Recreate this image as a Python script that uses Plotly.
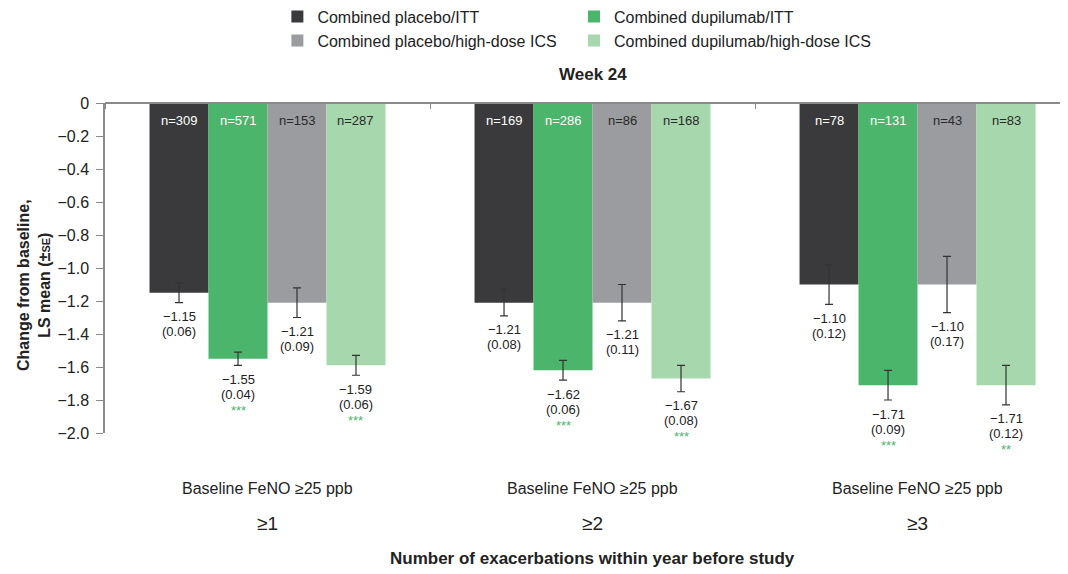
import plotly.graph_objects as go

# ---------------- data ----------------
categories = ["≥1", "≥2", "≥3"]
category_label = "Baseline FeNO ≥25 ppb"
series_names = [
    "Combined placebo/ITT",
    "Combined dupilumab/ITT",
    "Combined placebo/high-dose ICS",
    "Combined dupilumab/high-dose ICS",
]
placebo_itt = [-1.15, -1.21, -1.10]
dupilumab_itt = [-1.55, -1.62, -1.71]
placebo_hd = [-1.21, -1.21, -1.10]
dupilumab_hd = [-1.59, -1.67, -1.71]

placebo_itt_se = [0.06, 0.08, 0.12]
dupilumab_itt_se = [0.04, 0.06, 0.09]
placebo_hd_se = [0.09, 0.11, 0.17]
dupilumab_hd_se = [0.06, 0.08, 0.12]

placebo_itt_n = [309, 169, 78]
dupilumab_itt_n = [571, 286, 131]
placebo_hd_n = [153, 86, 43]
dupilumab_hd_n = [287, 168, 83]

placebo_itt_sig = ["", "", ""]
dupilumab_itt_sig = ["***", "***", "***"]
placebo_hd_sig = ["", "", ""]
dupilumab_hd_sig = ["***", "***", "**"]

y_tickvals = [0, -0.2, -0.4, -0.6, -0.8, -1.0, -1.2, -1.4, -1.6, -1.8, -2.0]

# ---------------- styles ----------------
colors = ["#3a3a3c", "#4ab56b", "#9b9c9f", "#a7d8ad"]
n_colors = ["#ffffff", "#ffffff", "#2a2a2a", "#2a2a2a"]
legends = ["legend", "legend2", "legend", "legend2"]
STAR = "#4ab56b"
TXT = "#222222"
AX = "#8a8a8a"
FONT = "Liberation Sans, Arial, sans-serif"
BARGAP = 0.274

means = [placebo_itt, dupilumab_itt, placebo_hd, dupilumab_hd]
ses = [placebo_itt_se, dupilumab_itt_se, placebo_hd_se, dupilumab_hd_se]
ns = [placebo_itt_n, dupilumab_itt_n, placebo_hd_n, dupilumab_hd_n]
sigs = [placebo_itt_sig, dupilumab_itt_sig, placebo_hd_sig, dupilumab_hd_sig]

fig = go.Figure()
for i, name in enumerate(series_names):
    fig.add_trace(go.Bar(
        name=name,
        x=categories,
        y=means[i],
        marker=dict(color=colors[i], line=dict(width=0)),
        error_y=dict(type="data", array=ses[i], visible=True,
                     color="#333333", thickness=1.2, width=4),
        legend=legends[i],
        hoverinfo="skip",
    ))


def fmt(v, d=2):
    s = f"{abs(v):.{d}f}"
    return ("−" + s) if v < 0 else s


annotations = []
bar_w = (1 - BARGAP) / 4
for i in range(4):
    off = (i - 1.5) * bar_w
    for j in range(len(categories)):
        x = j + off
        m = means[i][j]
        se = ses[i][j]
        bottom = m - se
        annotations.append(dict(x=x, y=0, xref="x", yref="y", text=f"n={ns[i][j]}",
                                showarrow=False, yanchor="middle", yshift=-17,
                                font=dict(size=13, color=n_colors[i], family=FONT)))
        annotations.append(dict(x=x, y=bottom, xref="x", yref="y", text=fmt(m),
                                showarrow=False, yanchor="middle", yshift=-14,
                                font=dict(size=13, color=TXT, family=FONT)))
        annotations.append(dict(x=x, y=bottom, xref="x", yref="y", text=f"({se:.2f})",
                                showarrow=False, yanchor="middle", yshift=-29,
                                font=dict(size=13, color=TXT, family=FONT)))
        if sigs[i][j]:
            annotations.append(dict(x=x, y=bottom, xref="x", yref="y", text=sigs[i][j],
                                    showarrow=False, yanchor="middle", yshift=-45,
                                    font=dict(size=13, color=STAR, family=FONT)))

for j, c in enumerate(categories):
    annotations.append(dict(x=j, y=0, xref="x", yref="paper", text=category_label,
                            showarrow=False, yanchor="middle", yshift=-55,
                            font=dict(size=16, color=TXT, family=FONT)))
    annotations.append(dict(x=j, y=0, xref="x", yref="paper", text=c,
                            showarrow=False, yanchor="middle", yshift=-90,
                            font=dict(size=19, color=TXT, family=FONT)))

annotations.append(dict(x=1, y=0, xref="x", yref="paper",
                        text="<b>Number of exacerbations within year before study</b>",
                        showarrow=False, yanchor="middle", yshift=-125,
                        font=dict(size=17, color=TXT, family=FONT)))
annotations.append(dict(x=1, y=1, xref="x", yref="paper", text="<b>Week 24</b>",
                        showarrow=False, yanchor="middle", yshift=29,
                        font=dict(size=17, color=TXT, family=FONT)))
annotations.append(dict(x=0, y=0.5, xref="paper", yref="paper",
                        text="<b>Change from baseline,<br>LS mean (±<span style='font-size:11px'>SE</span>)</b>",
                        showarrow=False, textangle=-90, xanchor="center", yanchor="middle",
                        xshift=-71, yshift=-17,
                        font=dict(size=16, color=TXT, family=FONT)))

# page body has an 8px margin; figure sized/offset to compensate
fig.update_layout(
    width=1060, height=566,
    margin=dict(l=97, r=0, t=95, b=141, autoexpand=False),
    paper_bgcolor="white", plot_bgcolor="white",
    barmode="group", bargap=BARGAP, bargroupgap=0,
    font=dict(family=FONT, color=TXT),
    showlegend=True,
    legend=dict(x=0.179, y=1.313, xanchor="left", yanchor="top",
                orientation="v", font=dict(size=16, color=TXT, family=FONT),
                bgcolor="rgba(0,0,0,0)", tracegroupgap=0, itemclick=False),
    legend2=dict(x=0.487, y=1.313, xanchor="left", yanchor="top",
                 orientation="v", font=dict(size=16, color=TXT, family=FONT),
                 bgcolor="rgba(0,0,0,0)", tracegroupgap=0, itemclick=False),
    xaxis=dict(type="category", range=[-0.5, 2.463], anchor="free", position=1,
               side="bottom", showline=True, linecolor=AX, linewidth=1.5,
               ticks="outside", tickson="boundaries", ticklen=5, tickcolor=AX,
               tickwidth=1.2, showticklabels=False, showgrid=False, zeroline=False),
    yaxis=dict(range=[-2.0, 0], showline=True, linecolor=AX, linewidth=1.5,
               ticks="outside", ticklen=7, tickcolor=AX, tickwidth=1.2,
               ticklabelstandoff=4,
               tickvals=y_tickvals,
               ticktext=["0" if v == 0 else fmt(v, 1) for v in y_tickvals],
               tickfont=dict(size=16, color=TXT, family=FONT),
               showgrid=False, zeroline=False),
    annotations=annotations,
)

fig.write_html("out.html")
